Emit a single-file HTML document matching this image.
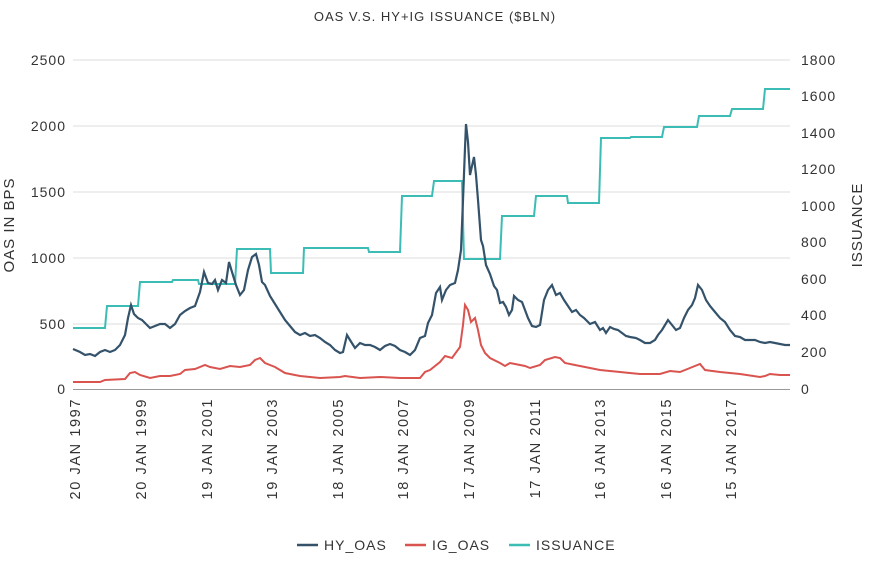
<!DOCTYPE html>
<html><head><meta charset="utf-8"><style>
body{margin:0;background:#fff;}
svg{display:block;font-family:"Liberation Sans",sans-serif;}
</style></head><body>
<svg width="871" height="574" viewBox="0 0 871 574">
<text x="435" y="21" text-anchor="middle" font-size="13" fill="#333" letter-spacing="1">OAS V.S. HY+IG ISSUANCE ($BLN)</text>
<g stroke="#dcdcdc" stroke-width="1">
<line x1="73" x2="790" y1="60" y2="60"/><line x1="73" x2="790" y1="126" y2="126"/><line x1="73" x2="790" y1="192" y2="192"/><line x1="73" x2="790" y1="258" y2="258"/><line x1="73" x2="790" y1="324" y2="324"/>
</g>
<line x1="73" x2="790" y1="389.5" y2="389.5" stroke="#999"/>
<g font-size="14" fill="#333" text-anchor="end" letter-spacing="1">
<text x="66" y="65">2500</text><text x="66" y="131">2000</text><text x="66" y="197">1500</text><text x="66" y="263">1000</text><text x="66" y="329">500</text><text x="66" y="394">0</text>
</g>
<g font-size="14" fill="#333" letter-spacing="1">
<text x="801" y="65">1800</text><text x="801" y="101">1600</text><text x="801" y="138">1400</text><text x="801" y="174">1200</text><text x="801" y="211">1000</text><text x="801" y="247">800</text><text x="801" y="284">600</text><text x="801" y="320">400</text><text x="801" y="357">200</text><text x="801" y="394">0</text>
</g>
<text transform="translate(14,225) rotate(-90)" text-anchor="middle" font-size="15" fill="#333" letter-spacing="1">OAS IN BPS</text>
<text transform="translate(862,225) rotate(-90)" text-anchor="middle" font-size="15" fill="#333" letter-spacing="1">ISSUANCE</text>
<g font-size="14.5" fill="#333" text-anchor="end" letter-spacing="1.6">
<text transform="translate(80,398) rotate(-90)">20 JAN 1997</text>
<text transform="translate(146,398) rotate(-90)">20 JAN 1999</text>
<text transform="translate(212,398) rotate(-90)">19 JAN 2001</text>
<text transform="translate(277,398) rotate(-90)">19 JAN 2003</text>
<text transform="translate(343,398) rotate(-90)">18 JAN 2005</text>
<text transform="translate(408,398) rotate(-90)">18 JAN 2007</text>
<text transform="translate(474,398) rotate(-90)">17 JAN 2009</text>
<text transform="translate(540,398) rotate(-90)">17 JAN 2011</text>
<text transform="translate(605,398) rotate(-90)">16 JAN 2013</text>
<text transform="translate(671,398) rotate(-90)">16 JAN 2015</text>
<text transform="translate(736,398) rotate(-90)">15 JAN 2017</text>
</g>
<polyline fill="none" stroke="#3bbdb5" stroke-width="2" points="73,328 105,328 107,306 138,306 140,282 172,282 173,280 198,280 199,284 235,284 237,249 270,249 271,273 303,273 304,248 368,248 369,252 400,252 402,196 432,196 434,181 462,181 464,259 500,259 502,216 534,216 536,196 567,196 568,203 599,203 601,138 630,138 631,137 662,137 664,127 697,127 699,116 730,116 732,109 763,109 765,89 790,89"/>
<polyline fill="none" stroke="#d9534f" stroke-width="2" points="73,382 100,382 105,380 125,379 130,373 135,372 140,375 150,378 160,376 170,376 180,374 185,370 195,369 205,365 210,367 220,369 230,366 240,367 250,365 255,360 260,358 265,363 275,367 285,373 300,376 320,378 340,377 345,376 360,378 380,377 400,378 420,378 425,372 430,370 440,362 445,356 452,358 460,347 463,325 465,305 468,310 471,322 475,318 478,330 481,345 485,353 490,358 500,363 505,366 510,363 515,364 520,365 525,366 530,368 540,365 545,360 555,357 560,358 565,363 575,365 590,368 600,370 620,372 640,374 660,374 670,371 680,372 690,368 700,364 705,370 720,372 740,374 760,377 765,376 770,374 780,375 790,375"/>
<polyline fill="none" stroke="#34536b" stroke-width="2.2" points="73,349 80,352 85,355 90,354 95,356 100,352 105,350 110,352 115,350 120,345 125,335 128,318 131,305 134,314 138,318 142,320 146,324 150,328 155,326 160,324 165,324 170,328 175,324 180,315 185,311 190,308 195,306 200,292 204,272 208,283 212,284 215,280 218,290 222,280 226,283 229,262 232,272 236,285 240,295 244,290 248,270 252,257 256,254 259,265 262,282 265,285 270,296 275,304 280,312 285,320 290,326 295,332 300,335 305,333 310,336 315,335 320,338 325,342 330,345 335,350 340,353 343,352 347,335 350,340 355,348 360,343 365,345 370,345 375,347 380,350 385,346 390,344 395,346 400,350 405,352 410,355 415,350 420,338 425,336 428,323 432,315 436,293 440,287 442,300 446,290 450,285 455,283 458,270 461,250 463,200 465,148 466,124 468,142 470,175 472,166 474,157 476,175 478,200 481,240 483,246 486,265 490,274 494,286 497,290 500,303 503,302 506,307 509,315 512,310 514,296 518,300 522,302 525,310 528,318 532,326 536,327 540,325 544,300 548,290 552,285 556,295 560,293 564,300 568,306 572,312 576,310 580,315 584,318 590,324 595,322 600,330 603,328 606,333 610,327 614,329 618,330 622,333 626,336 630,337 636,338 640,340 645,343 650,343 655,340 658,335 662,330 665,325 668,320 672,325 676,330 680,328 684,318 688,310 692,305 695,298 698,285 702,290 706,300 710,306 715,312 720,318 725,322 730,330 735,336 740,337 745,340 750,340 755,340 760,342 765,343 770,342 775,343 780,344 785,345 790,345"/>
<g font-size="14" fill="#333" letter-spacing="1">
<line x1="297" x2="318" y1="545" y2="545" stroke="#34536b" stroke-width="2.5"/><text x="324" y="550">HY_OAS</text>
<line x1="405" x2="426" y1="545" y2="545" stroke="#d9534f" stroke-width="2.5"/><text x="432" y="550">IG_OAS</text>
<line x1="509" x2="530" y1="545" y2="545" stroke="#3bbdb5" stroke-width="2.5"/><text x="536" y="550">ISSUANCE</text>
</g>
</svg>
</body></html>
